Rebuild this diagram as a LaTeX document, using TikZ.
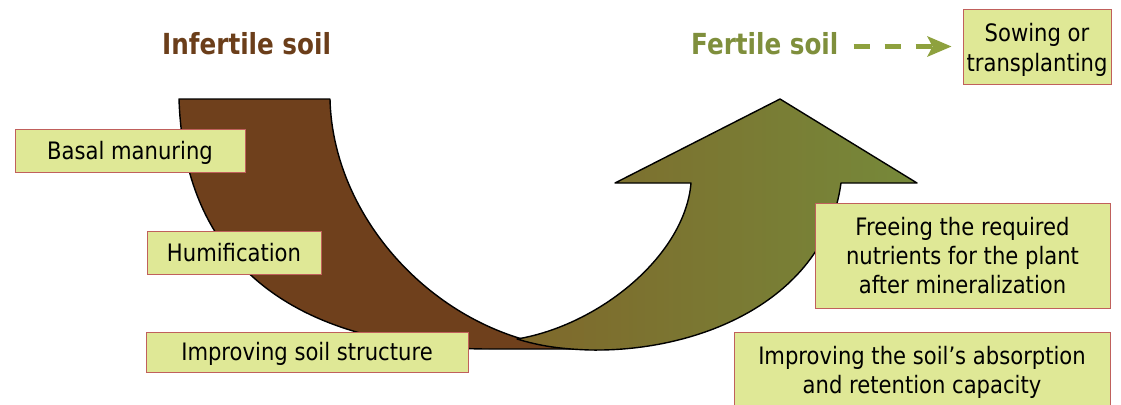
\documentclass[tikz,border=0pt]{standalone}
\usepackage{fontspec}
\setmainfont{DejaVu Sans}[FakeStretch=0.88]
\newfontfamily\titlefont{DejaVu Sans Bold}[FakeStretch=0.85]
\usetikzlibrary{arrows.meta,calc}
\definecolor{brownsoil}{HTML}{6F401C}
\definecolor{infcol}{HTML}{6B3E1A}
\definecolor{fertcol}{HTML}{7F8F3C}
\definecolor{dashcol}{HTML}{8EA13E}
\definecolor{boxfill}{HTML}{DFE896}
\definecolor{boxborder}{HTML}{C0605C}
\definecolor{gleft}{HTML}{7F682B}
\definecolor{gmid}{HTML}{7D8235}
\definecolor{gright}{HTML}{76893A}
\begin{document}
\begin{tikzpicture}[x=1pt,y=-1pt,
  lbl/.style={draw=boxborder, fill=boxfill, line width=0.8pt, align=center,
    inner sep=0pt, font=\fontsize{24}{29}\selectfont},
  oneline/.style={text height=20pt, text depth=3pt},
  title/.style={anchor=base west, inner sep=0pt, font=\titlefont\fontsize{29}{34}\selectfont},
  shapeline/.style={draw=black, line width=1.4pt, line join=round},
  dasharrow/.style={draw=dashcol, line width=5pt, dash pattern=on 16pt off 15pt,
    -{Stealth[length=24pt,width=20pt,inset=5pt]}}]
\useasboundingbox (0,0) rectangle (1121,404);
\clip (0,0) rectangle (1121,404);

% brown curved band
\path[shapeline, fill=brownsoil]
  (179,99) -- (330,99) .. controls (333,230) and (455,349) .. (590,349)
  -- (490,349) .. controls (330,349) and (185,290) .. (179,99) -- cycle;

% green curved up arrow
\path[shapeline, left color=gleft, middle color=gmid, right color=gright]
  (517,339) .. controls (600,325) and (685,255) .. (691,183)
  -- (615,183) -- (780,99) -- (917,183) -- (841,183)
  .. controls (825,300) and (700,352) .. (590,350)
  .. controls (560,349) and (540,346) .. (517,339) -- cycle;

% titles
\node[title, text=infcol] (infert) at (162,55) {Infertile soil};
\node[title, text=fertcol] (fert) at (691,55) {Fertile soil};

% label boxes
\node[lbl, oneline, minimum width=230pt, minimum height=43pt] (basal) at (130,150.5) {Basal manuring};
\node[lbl, oneline, minimum width=174pt, minimum height=43pt] (humif) at (234,252.5) {Humification};
\node[lbl, oneline, minimum width=322pt, minimum height=40pt] (struct) at (307,352) {Improving soil structure};
\node[lbl, minimum width=148pt, minimum height=75pt, font=\fontsize{24}{30}\selectfont,
  text height=52pt, text depth=3pt] (sow) at (1037,46.5) {Sowing or\\transplanting};
\node[lbl, minimum width=295pt, minimum height=105pt] (free) at (962.5,255.5) {Freeing the required\\nutrients for the plant\\after mineralization};
\node[lbl, minimum width=376pt, minimum height=80pt, anchor=north] (absorb) at (922,332) {Improving the soil’s absorption\\and retention capacity};

% dashed arrow
\draw[dasharrow] ($(fert.east |- sow.west)+(15,0)$) -- ($(sow.west)+(-11,0)$);
\end{tikzpicture}
\end{document}
